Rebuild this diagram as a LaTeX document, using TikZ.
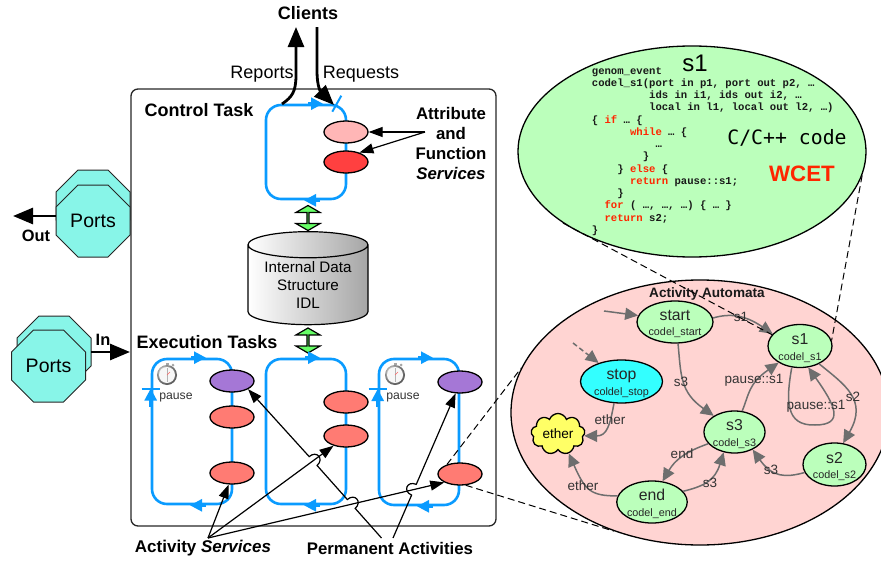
\documentclass[tikz,border=0pt]{standalone}
\usepackage{fontspec}
\setmainfont{Liberation Sans}
\setmonofont{Liberation Mono}
\newfontfamily\dejamono{DejaVu Sans Mono}
\usetikzlibrary{arrows.meta,calc,shapes.geometric,shapes.symbols,shapes.arrows}
\newcommand{\fsz}[1]{\fontsize{#1}{#1}\selectfont}
\definecolor{loopblue}{HTML}{0A9BFF}
\definecolor{portcol}{HTML}{88F5E8}
\definecolor{salmon}{HTML}{FF7B73}
\definecolor{purp}{HTML}{A577D6}
\definecolor{pinkc}{HTML}{FFB6B6}
\definecolor{redc}{HTML}{FF4040}
\definecolor{codegreen}{HTML}{BBFFBB}
\definecolor{autopink}{HTML}{FFD4D2}
\definecolor{edgegray}{HTML}{6E6E6E}
\definecolor{wcetred}{HTML}{FF2600}
\definecolor{arrowgreen}{HTML}{66FF66}
\definecolor{stopcyan}{HTML}{33FFFF}
\definecolor{etheryellow}{HTML}{FFFF66}
\tikzset{
  x=1pt,y=-1pt,
  mainbox/.style={draw=black!85,line width=1.3pt,rounded corners=7pt,minimum width=365pt,minimum height=437pt,inner sep=0pt},
  octa/.style={draw=black!85,line width=1pt,fill=portcol},
  octanode/.style={minimum width=74pt,minimum height=72pt,inner sep=0pt,font=\fsz{19.5}},
  octagon/.pic={
    \path[octa] (-15,-36) -- (15,-36) -- (37,-14) -- (37,14) -- (15,36) -- (-15,36) -- (-37,14) -- (-37,-14) -- cycle;
  },
  loopbox/.style={draw=loopblue,line width=2.6pt,rounded corners=15pt,minimum width=80pt,inner sep=0pt},
  loopflow/.style={draw=loopblue,fill=loopblue,line width=2.6pt,-{Triangle[length=12pt,width=12pt]}},
  looptick/.style={draw=loopblue,line width=2pt},
  svc/.style={draw=black,line width=1.3pt,ellipse,minimum width=44pt,minimum height=22pt,inner sep=0pt},
  bigarrow/.style={draw=black,line width=2.8pt,-{Triangle[length=20pt,width=16pt]}},
  fineline/.style={draw=black,line width=1.2pt,-{Triangle[length=14pt,width=10pt]}},
  biglabel/.style={font=\bfseries\fsz{18}},
  midlabel/.style={font=\bfseries\fsz{16.8},align=center},
  dbl/.style={draw=black,line width=1.2pt,fill=arrowgreen,double arrow,double arrow head extend=6pt,double arrow head indent=0pt,double arrow tip angle=120,rotate=90,minimum height=25pt,minimum width=24pt,inner sep=0pt},
  dashconn/.style={draw=black,line width=1pt,dash pattern=on 7pt off 4pt},
  state/.style={draw=black,line width=1.3pt,ellipse,inner sep=0pt,text=black!85,fill=codegreen,font=\fsz{10}},
  edgeline/.style={draw=edgegray,line width=1.5pt,-{Triangle[length=13pt,width=12pt]}},
  edgetext/.style={font=\fsz{13.5},text=black!80,inner sep=0pt},
  clockicon/.pic={
    \fill[gray!70] (-1.5,-12.5) rectangle (1.5,-10);
    \fill[gray!70] (6,-10) circle (1.5);
    \shade[ball color=gray!35] (0,0) circle (10);
    \fill[black!3] (0,0) circle (8);
    \draw[gray!60,line width=.5pt] (0,-7) -- (0,7);
    \draw[red!60,line width=.5pt] (0,0) -- (3,-3);
  }
}
\newcommand{\stn}[2]{\raisebox{-5pt}[0pt][0pt]{\begin{tabular}{@{}c@{}}{\fsz{15.8}#1}\\[4.7pt]{\fsz{10.8}#2}\end{tabular}}}
\begin{document}
\begin{tikzpicture}
\useasboundingbox (0,0) rectangle (881,562);
% main frame
\node[mainbox] (main) at (313.5,307.5) {};
% ports
\pic at (93,206) {octagon};
\pic at (93,221) {octagon};
\pic at (54,352) {octagon};
\pic at (48.5,366) {octagon};
\node[octanode] (outb) at (93,206) {};
\node[octanode] (outf) at (93,221) {\raisebox{-1.5pt}{Ports}};
\node[octanode] (inb) at (54,352) {};
\node[octanode] (inf) at (48.5,366) {\raisebox{-1.5pt}{Ports}};
\coordinate (outtip) at (13,216);
\coordinate (intip) at (130,352);
\draw[bigarrow] (outf.west |- outtip) -- (outtip);
\draw[bigarrow] (inb.east) -- (intip);
\node[font=\bfseries\fsz{16.4}] (outl) at (36,236) {Out};
\node[font=\bfseries\fsz{16.4}] (inl) at (103,340) {In};
% clients
\node[biglabel] (clients) at (308,13) {Clients};
\node[font=\fsz{18}] (reports) at (262,74) {Reports};
\node[font=\fsz{18}] (requests) at (361,74) {Requests};
\node[biglabel] (ctltitle) at (199,110) {Control Task};
\node[biglabel] (exectitle) at (207,342) {Execution Tasks};
% control loop
\node[loopbox,minimum height=94pt] (ctl) at (306,152) {};
\coordinate (repstart) at (282,104);
\coordinate (reptip) at (296,27);
\coordinate (reqstart) at (317,27);
\coordinate (reqtip) at (334,105);
\draw[bigarrow] (repstart) .. controls (292,97) and (296,92) .. (296,75) -- (reptip);
\draw[bigarrow] (reqstart) -- (317,70) .. controls (317,88) and (321,92) .. (reqtip);
\draw[loopflow] ($(ctl.north)+(2,0)$) -- ($(ctl.north)+(17,0)$);
\draw[loopflow] ($(ctl.south)+(14,0)$) -- ($(ctl.south)+(-2,0)$);
\draw[looptick] ($(ctl.north east)+(-15,8)$) -- ($(ctl.north east)+(-6,-8)$);
\node[svc,fill=pinkc] (attr) at (346,132) {};
\node[svc,fill=redc] (func) at (346,162) {};
\node[midlabel] (svcs) at (451,143) {Attribute\\[3.2pt]and\\[3.2pt]Function\\[3.2pt]\textit{Services}};
\coordinate (svcorigin) at (425,132);
\draw[fineline] (svcorigin) -- (attr.east);
\draw[fineline] (svcorigin) -- (func.35);
% database
\node[dbl] (dbtop) at (308,218) {};
\node[draw=black,line width=1.2pt,cylinder,shape border rotate=90,aspect=0.3,minimum width=120pt,minimum height=93pt,inner sep=0pt,left color=white,right color=black!35,align=center,font=\fsz{15.2}] (db) at (308,285) {Internal Data\\[2.5pt]Structure\\[2.5pt]IDL};
\node[dbl] (dbbot) at (308,340.5) {};
% execution loops
\node[loopbox,minimum height=145pt] (la) at (192,431.5) {};
\node[loopbox,minimum height=145pt] (lb) at (306,431.5) {};
\node[loopbox,minimum height=146pt] (lc) at (419,432) {};
\foreach \l in {la,lb,lc}{
  \draw[loopflow] ($(\l.north)+(-1,0)$) -- ($(\l.north)+(14,0)$);
  \draw[loopflow] ($(\l.south)+(14,0)$) -- ($(\l.south)+(-2,0)$);
}
\foreach \l in {la,lc}{
  \draw[loopflow] ($(\l.west)+(0,-25)$) -- ($(\l.west)+(0,-43)$);
  \draw[looptick] ($(\l.west)+(-9,-43)$) -- ($(\l.west)+(9,-43)$);
}
\node[font=\fsz{12.2},text=black!80] (pausea) at (176,397) {pause};
\node[font=\fsz{12.2},text=black!80] (pausec) at (403,397) {pause};
\pic at (167,375) {clockicon};
\pic at (395,375) {clockicon};
\node[svc,fill=purp] (pa) at (232,381) {};
\node[svc,fill=salmon] (sa1) at (232,417) {};
\node[svc,fill=salmon] (sa2) at (232,473) {};
\node[svc,fill=salmon] (sb1) at (346,402) {};
\node[svc,fill=salmon] (sb2) at (346,436) {};
\node[svc,fill=purp] (pc) at (460,382) {};
\node[svc,fill=salmon] (sc) at (460,474) {};
% labels below
\node[font=\bfseries\fsz{17}] (actsvc) at (203,548) {Activity \textit{Services}};
\node[font=\bfseries\fsz{16.8}] (perm) at (390,548) {Permanent Activities};
\coordinate (ao) at (208,538);
\coordinate (po1) at (381.5,538);
\coordinate (po2) at (393,538);
\coordinate (pe1) at (250,390);
\coordinate (pe2) at (455,395);
\draw[fineline] (ao) -- (sa2.-106);
\draw[fineline] (ao) -- (sb2.-142);
\draw[fineline] (ao) -- (sc.-152);
\coordinate (h1a) at ($(po1)!0.20!(pe1)$);
\coordinate (h1b) at ($(po1)!0.26!(pe1)$);
\coordinate (h2a) at ($(po1)!0.49!(pe1)$);
\coordinate (h2b) at ($(po1)!0.55!(pe1)$);
\coordinate (h3a) at ($(po2)!0.30!(pe2)$);
\coordinate (h3b) at ($(po2)!0.375!(pe2)$);
\draw[fineline] (po1) -- (h1a) .. controls ($(h1a)!10pt!-90:(h1b)$) and ($(h1b)!10pt!90:(h1a)$) .. (h1b) -- (h2a) .. controls ($(h2a)!10pt!-90:(h2b)$) and ($(h2b)!10pt!90:(h2a)$) .. (h2b) -- (pa.-27);
\draw[fineline] (po2) -- (h3a) .. controls ($(h3a)!10pt!90:(h3b)$) and ($(h3b)!10pt!-90:(h3a)$) .. (h3b) -- (pc.-111);
% code ellipse
\node[draw=black,line width=1.3pt,ellipse,fill=codegreen,minimum width=348pt,minimum height=211pt,inner sep=0pt] (code) at (692,151.5) {};
\node[font=\fsz{24}] (codetitle) at (695,63) {s1};
\node[anchor=north west,inner sep=0pt,align=left,font=\ttfamily\bfseries\fontsize{10.6}{12.23}\selectfont,text=black!90] (codetext) at (591.7,67) {%
genom\_event\\
codel\_s1(port in p1, port out p2, …\\
~~~~~~~~~ids in i1, ids out i2, …\\
~~~~~~~~~local in l1, local out l2, …)\\
\{ \textcolor{wcetred}{if} … \{\\
~~~~~~\textcolor{wcetred}{while} … \{\\
~~~~~~~~~~…\\
~~~~~~~~\}\\
~~~~\} \textcolor{wcetred}{else} \{\\
~~~~~~\textcolor{wcetred}{return} pause::s1;\\
~~~~\}\\
~~\textcolor{wcetred}{for} ( …, …, …) \{ … \}\\
~~\textcolor{wcetred}{return} s2;\\
\}};
\node[font=\dejamono\fsz{19.8}] (cpp) at (787,138) {C/C++ code};
\node[font=\bfseries\fsz{22.3},text=wcetred] (wcet) at (802,174) {WCET};
% automaton
\begin{scope}
\clip (0,0) rectangle (881,562);
\node[draw=black,line width=1.3pt,ellipse,fill=autopink,minimum width=378pt,minimum height=265pt,inner sep=0pt] (auto) at (700,412.5) {};
\end{scope}
\node[font=\bfseries\fsz{13.6},text=black!90] (autotitle) at (707,294) {Activity Automata};
\node[state,minimum width=76pt,minimum height=42pt] (start) at (675,322) {\stn{start}{codel\_start}};
\node[state,minimum width=64pt,minimum height=43pt] (s1) at (800,346) {\stn{s1}{codel\_s1}};
\node[state,minimum width=82pt,minimum height=43pt,fill=stopcyan] (stop) at (621.5,381.5) {\stn{stop}{coldel\_stop}};
\node[state,minimum width=59pt,minimum height=42pt] (s3) at (734.5,432) {\stn{s3}{codel\_s3}};
\node[state,minimum width=63pt,minimum height=43pt] (s2) at (834.5,464.5) {\stn{s2}{codel\_s2}};
\node[state,minimum width=70pt,minimum height=42pt] (end) at (652,502) {\stn{end}{codel\_end}};
\node[draw=black,line width=1.3pt,cloud,cloud puffs=9,cloud puff arc=140,aspect=1.35,fill=etheryellow,minimum width=54pt,minimum height=40pt,inner sep=0pt,font=\fsz{13.6}] (ether) at (558,434) {ether};
\coordinate (startin) at (604,311);
\coordinate (stopin) at (573,343);
\draw[edgeline] (startin) -- (start.170);
\draw[edgeline,dash pattern=on 5pt off 3pt] (stopin) -- (stop.141);
\draw[edgeline] (start.6) .. controls (730,313) and (745,315) .. (s1.156);
\draw[edgeline] (start.-82) .. controls (681,375) and (680,392) .. (s3.142);
\draw[edgeline] (s3.70) .. controls (749,395) and (748,384) .. (s1.218);
\draw[edgeline] (s1.-111) .. controls (786,400) and (785,426) .. (815,425) .. controls (845,425) and (835,405) .. (s1.-69);
\draw[edgeline] (s1.-43) .. controls (845,385) and (868,400) .. (s2.68);
\draw[edgeline] (s2.195) .. controls (785,478) and (772,477) .. (s3.-44);
\draw[edgeline] (s3.204) .. controls (685,452) and (675,460) .. (end.63);
\draw[edgeline] (end.19) .. controls (705,486) and (715,480) .. (s3.-118);
\draw[edgeline] (end.170) .. controls (590,496) and (585,490) .. (ether.-61);
\draw[edgeline] (stop.-109) .. controls (610,425) and (607,436) .. (ether.-4);
\node[edgetext] (l1) at (741,317) {s1};
\node[edgetext] (l2) at (681,382) {s3};
\node[edgetext] (l3) at (754,380) {pause::s1};
\node[edgetext] (l4) at (816,406) {pause::s1};
\node[edgetext] (l5) at (853,397) {s2};
\node[edgetext] (l6) at (771,470) {s3};
\node[edgetext] (l7) at (682,454) {end};
\node[edgetext] (l8) at (710,483) {s3};
\node[edgetext] (l9) at (583,486) {ether};
\node[edgetext] (l10) at (610,420) {ether};
% dashed guides
\draw[dashconn] (sc.144) -- (auto.166);
\draw[dashconn] (sc.-63) -- (auto.-126.6);
\draw[dashconn] (code.-151) -- (s1.-202);
\draw[dashconn] (code.-8) -- (s1.10);
\end{tikzpicture}
\end{document}
